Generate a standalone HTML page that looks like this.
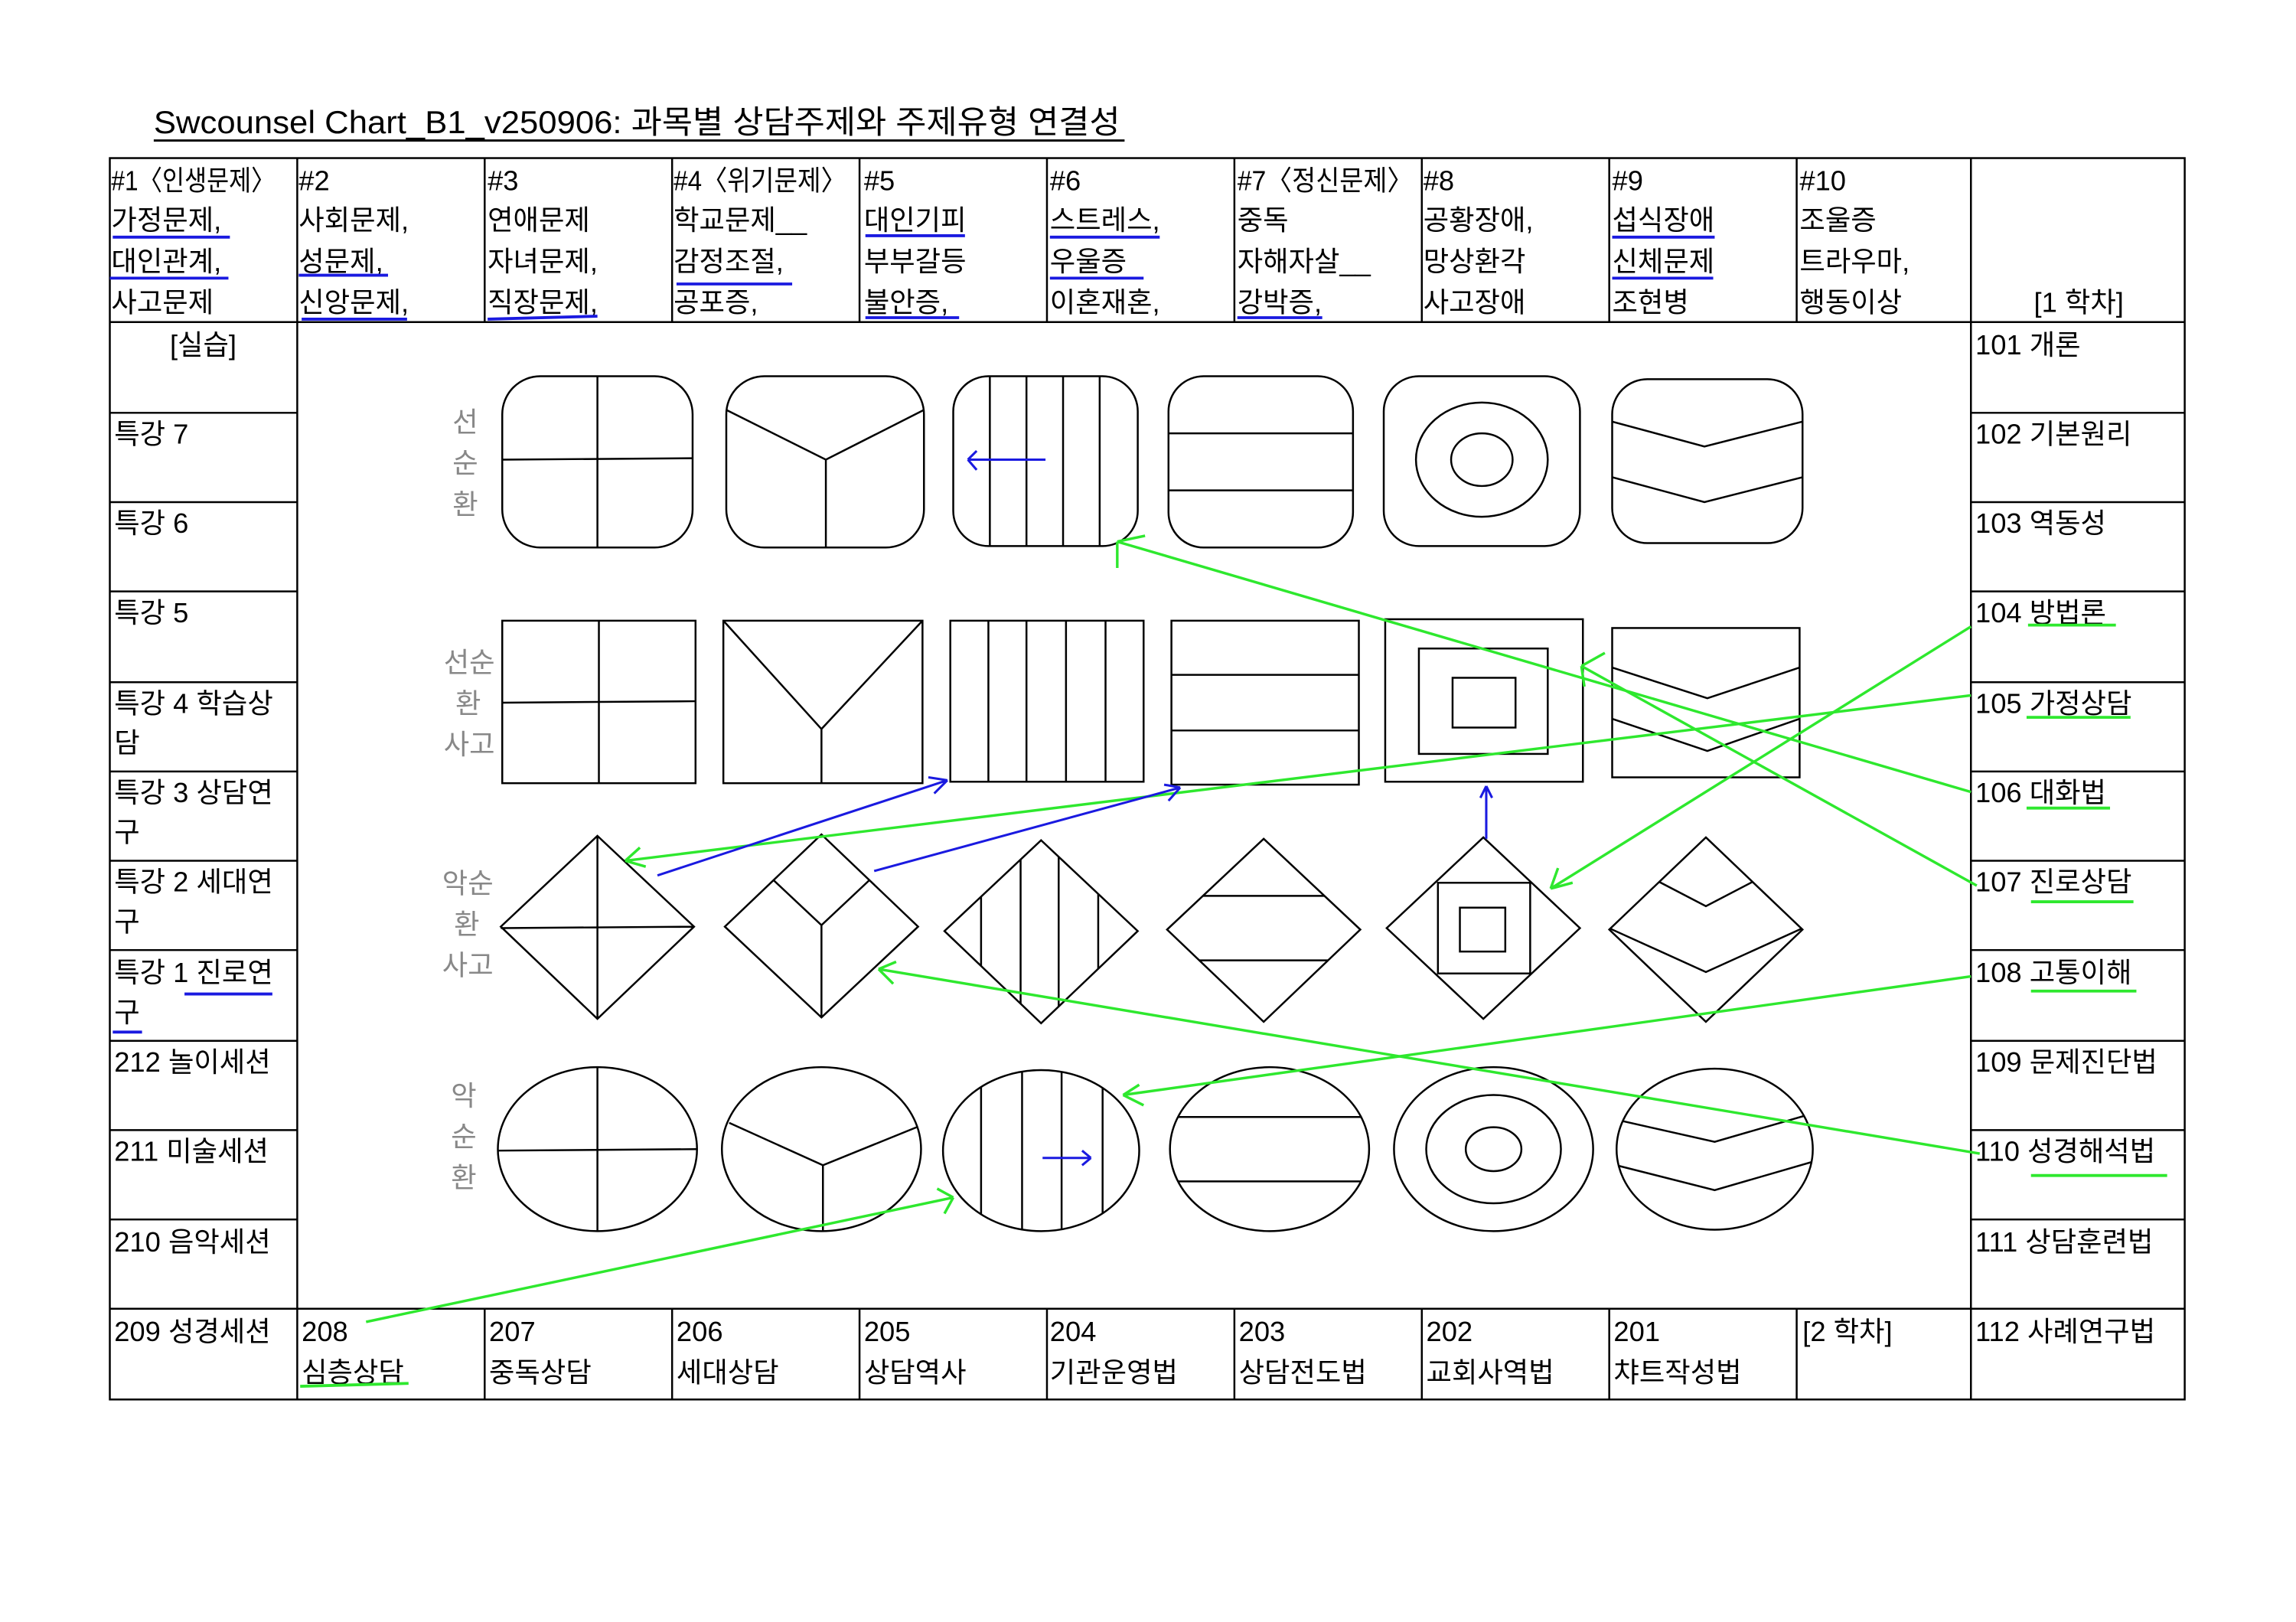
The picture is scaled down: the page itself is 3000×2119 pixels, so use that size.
<!DOCTYPE html>
<html><head><meta charset="utf-8"><style>
html,body{margin:0;padding:0;background:#fff;}
svg{display:block;}
text{font-family:"Liberation Sans","Noto Sans CJK KR",sans-serif;font-size:19px;fill:#000;}
.g{fill:#888;}
</style></head><body>
<svg width="3000" height="2119" viewBox="0 0 1568 1108" preserveAspectRatio="none" xmlns="http://www.w3.org/2000/svg">
<defs>
<clipPath id="d3"><path d="M711 574L777 636L711 699L645 636Z"/></clipPath>
<clipPath id="d4"><path d="M863 573L929 635L863 698L797 635Z"/></clipPath>
<clipPath id="d6"><path d="M1165 572L1231 635L1165 698L1099 635Z"/></clipPath>
<clipPath id="e3"><ellipse cx="711" cy="786" rx="67" ry="55"/></clipPath>
<clipPath id="e4"><ellipse cx="867" cy="785" rx="68" ry="56"/></clipPath>
<clipPath id="e6"><ellipse cx="1171" cy="785" rx="67" ry="55"/></clipPath>
</defs>
<rect width="1568" height="1108" fill="#fff"/>
<text x="105" y="91" style="font-size:22px" textLength="660" lengthAdjust="spacingAndGlyphs">Swcounsel Chart_B1_v250906: 과목별 상담주제와 주제유형 연결성</text>
<line x1="105" y1="96" x2="768" y2="96" stroke="#000" stroke-width="1.5"/>
<g stroke="#000" stroke-width="1.3" fill="none">
<rect x="75" y="108" width="1417" height="848"/>
<line x1="75" y1="220" x2="1492" y2="220"/>
<line x1="75" y1="894" x2="1492" y2="894"/>
<line x1="203" y1="108" x2="203" y2="956"/>
<line x1="1346" y1="108" x2="1346" y2="956"/>
<g>
<line x1="331" y1="108" x2="331" y2="220"/><line x1="459" y1="108" x2="459" y2="220"/><line x1="587" y1="108" x2="587" y2="220"/><line x1="715" y1="108" x2="715" y2="220"/><line x1="843" y1="108" x2="843" y2="220"/><line x1="971" y1="108" x2="971" y2="220"/><line x1="1099" y1="108" x2="1099" y2="220"/><line x1="1227" y1="108" x2="1227" y2="220"/>
<line x1="331" y1="894" x2="331" y2="956"/><line x1="459" y1="894" x2="459" y2="956"/><line x1="587" y1="894" x2="587" y2="956"/><line x1="715" y1="894" x2="715" y2="956"/><line x1="843" y1="894" x2="843" y2="956"/><line x1="971" y1="894" x2="971" y2="956"/><line x1="1099" y1="894" x2="1099" y2="956"/><line x1="1227" y1="894" x2="1227" y2="956"/>
</g>
<path d="M75 282H203M75 343H203M75 404H203M75 466H203M75 527H203M75 588H203M75 649H203M75 711H203M75 772H203M75 833H203"/>
<path d="M1346 282H1492M1346 343H1492M1346 404H1492M1346 466H1492M1346 527H1492M1346 588H1492M1346 649H1492M1346 711H1492M1346 772H1492M1346 833H1492"/>
</g>
<g>
<text x="76" y="130" textLength="112" lengthAdjust="spacingAndGlyphs">#1〈인생문제〉</text><text x="76" y="157">가정문제,</text><text x="76" y="185">대인관계,</text><text x="76" y="213">사고문제</text>
<text x="204" y="130">#2</text><text x="204" y="157">사회문제,</text><text x="204" y="185">성문제,</text><text x="204" y="213">신앙문제,</text>
<text x="333" y="130">#3</text><text x="333" y="157">연애문제</text><text x="333" y="185">자녀문제,</text><text x="333" y="213">직장문제,</text>
<text x="460" y="130" textLength="118" lengthAdjust="spacingAndGlyphs">#4〈위기문제〉</text><text x="460" y="157">학교문제__</text><text x="460" y="185">감정조절,</text><text x="460" y="213">공포증,</text>
<text x="590" y="130">#5</text><text x="590" y="157">대인기피</text><text x="590" y="185">부부갈등</text><text x="590" y="213">불안증,</text>
<text x="717" y="130">#6</text><text x="717" y="157">스트레스,</text><text x="717" y="185">우울증</text><text x="717" y="213">이혼재혼,</text>
<text x="845" y="130" textLength="120" lengthAdjust="spacingAndGlyphs">#7〈정신문제〉</text><text x="845" y="157">중독</text><text x="845" y="185">자해자살__</text><text x="845" y="213">강박증,</text>
<text x="972" y="130">#8</text><text x="972" y="157">공황장애,</text><text x="972" y="185">망상환각</text><text x="972" y="213">사고장애</text>
<text x="1101" y="130">#9</text><text x="1101" y="157">섭식장애</text><text x="1101" y="185">신체문제</text><text x="1101" y="213">조현병</text>
<text x="1229" y="130">#10</text><text x="1229" y="157">조울증</text><text x="1229" y="185">트라우마,</text><text x="1229" y="213">행동이상</text>
<text x="1389" y="213">[1 학차]</text>
</g>
<g>
<text x="116" y="242">[실습]</text>
<text x="78" y="303">특강 7</text><text x="78" y="364">특강 6</text><text x="78" y="425">특강 5</text>
<text x="78" y="487">특강 4 학습상</text><text x="78" y="514">담</text>
<text x="78" y="548">특강 3 상담연</text><text x="78" y="575">구</text>
<text x="78" y="609">특강 2 세대연</text><text x="78" y="636">구</text>
<text x="78" y="671">특강 1 진로연</text><text x="78" y="698">구</text>
<text x="78" y="732">212 놀이세션</text><text x="78" y="793">211 미술세션</text><text x="78" y="855">210 음악세션</text><text x="78" y="916">209 성경세션</text>
</g>
<g>
<text x="1349" y="242">101 개론</text><text x="1349" y="303">102 기본원리</text><text x="1349" y="364">103 역동성</text><text x="1349" y="425">104 방법론</text><text x="1349" y="487">105 가정상담</text><text x="1349" y="548">106 대화법</text><text x="1349" y="609">107 진로상담</text><text x="1349" y="671">108 고통이해</text><text x="1349" y="732">109 문제진단법</text><text x="1349" y="793">110 성경해석법</text><text x="1349" y="855">111 상담훈련법</text><text x="1349" y="916">112 사례연구법</text>
</g>
<g>
<text x="206" y="916">208</text><text x="206" y="944">심층상담</text>
<text x="334" y="916">207</text><text x="334" y="944">중독상담</text>
<text x="462" y="916">206</text><text x="462" y="944">세대상담</text>
<text x="590" y="916">205</text><text x="590" y="944">상담역사</text>
<text x="717" y="916">204</text><text x="717" y="944">기관운영법</text>
<text x="846" y="916">203</text><text x="846" y="944">상담전도법</text>
<text x="974" y="916">202</text><text x="974" y="944">교회사역법</text>
<text x="1102" y="916">201</text><text x="1102" y="944">챠트작성법</text>
<text x="1231" y="916">[2 학차]</text>
</g>
<g>
<text class="g" x="309" y="295">선</text><text class="g" x="309" y="323">순</text><text class="g" x="309" y="351">환</text>
<text class="g" x="303" y="459">선순</text><text class="g" x="311" y="487">환</text><text class="g" x="303" y="515">사고</text>
<text class="g" x="302" y="610">악순</text><text class="g" x="310" y="638">환</text><text class="g" x="302" y="666">사고</text>
<text class="g" x="308" y="755">악</text><text class="g" x="308" y="783">순</text><text class="g" x="308" y="811">환</text>
</g>
<g stroke="#1a1ae0" stroke-width="2" fill="none">
<path d="M77 162H157M75 190H156M204 188H265M206 218H278M333 218L408 216M462 194H541M591 161H659M591 217H655M717 162H792M717 190H781M845 217H903M1101 162H1171M1101 190H1170M126 679H186M77 705H97"/>
</g>
<g stroke="#2ee82e" stroke-width="2" fill="none">
<path d="M1385 427H1445M1384 490H1455M1384 552H1441M1387 616H1457M1387 677H1459M1387 803H1480M205 947L279 945"/>
</g>
<g stroke="#000" stroke-width="1.3" fill="none">
<rect x="343" y="257" width="130" height="117" rx="26"/>
<path d="M408 257V374M343 314L473 313"/>
<rect x="496" y="257" width="135" height="117" rx="26"/>
<path d="M496 280L564 314L631 280M564 314V374"/>
<rect x="651" y="257" width="126" height="116" rx="24"/>
<path d="M676 257V373M701 257V373M726 257V373M751 257V373"/>
<rect x="798" y="257" width="126" height="117" rx="24"/>
<path d="M798 296H924M798 335H924"/>
<rect x="945" y="257" width="134" height="116" rx="24"/>
<ellipse cx="1012" cy="314" rx="45" ry="39"/><ellipse cx="1012" cy="314" rx="21" ry="18"/>
<rect x="1101" y="259" width="130" height="112" rx="24"/>
<path d="M1101 288L1164 305L1231 288M1101 326L1164 343L1231 326"/>
</g>
<g stroke="#000" stroke-width="1.3" fill="none">
<rect x="343" y="424" width="132" height="111"/><path d="M409 424V535M343 480L475 479"/>
<rect x="494" y="424" width="136" height="111"/><path d="M494 424L561 498L630 424M561 498V535"/>
<rect x="649" y="424" width="132" height="110"/><path d="M675 424V534M701 424V534M728 424V534M755 424V534"/>
<rect x="800" y="424" width="128" height="112"/><path d="M800 461H928M800 499H928"/>
<rect x="946" y="423" width="135" height="111"/><rect x="969" y="443" width="88" height="72"/><rect x="992" y="463" width="43" height="34"/>
<rect x="1101" y="429" width="128" height="102"/><path d="M1101 456L1166 477L1229 456M1101 491L1166 513L1229 491"/>
</g>
<g stroke="#000" stroke-width="1.3" fill="none">
<path d="M408 571L474 633L408 696L342 633Z M408 571V696 M342 634L474 633"/>
<path d="M561 570L627 633L561 695L495 633Z M528 601L561 632L594 601 M561 632V695"/>
<path d="M711 574L777 636L711 699L645 636Z"/>
<path clip-path="url(#d3)" d="M670 560V710M697 560V710M723 560V710M750 560V710"/>
<path d="M863 573L929 635L863 698L797 635Z"/>
<path clip-path="url(#d4)" d="M790 612H940M790 656H940"/>
<path d="M1013 572L1079 634L1013 696L947 634Z M982 603H1045V665H982Z M997 620H1028V650H997Z"/>
<path d="M1165 572L1231 635L1165 698L1099 635Z"/>
<path clip-path="url(#d6)" d="M1090 580L1165 619L1240 580M1090 630L1165 664L1240 630"/>
</g>
<g stroke="#000" stroke-width="1.3" fill="none">
<ellipse cx="408" cy="785" rx="68" ry="56"/><path d="M408 729V841M340 786L476 785"/>
<ellipse cx="561" cy="785" rx="68" ry="56"/><path d="M498 767L562 796L626 770M562 796V841"/>
<ellipse cx="711" cy="786" rx="67" ry="55"/>
<path clip-path="url(#e3)" d="M670 720V850M698 720V850M725 720V850M753 720V850"/>
<ellipse cx="867" cy="785" rx="68" ry="56"/>
<path clip-path="url(#e4)" d="M795 763H940M795 807H940"/>
<ellipse cx="1020" cy="785" rx="68" ry="56"/><ellipse cx="1020" cy="785" rx="46" ry="37"/><ellipse cx="1020" cy="785" rx="19" ry="15"/>
<ellipse cx="1171" cy="785" rx="67" ry="55"/>
<path clip-path="url(#e6)" d="M1100 764L1171 780L1240 760M1100 795L1171 813L1240 793"/>
</g>
<g stroke="#2ee82e" stroke-width="1.8" fill="none">
<path d="M1346 541L763 370M763 370L782 366M763 370L763 388"/>
<path d="M1350 605L1080 455M1080 455L1096 446M1080 455L1082 469"/>
<path d="M1346 428L1059 607M1059 607L1074 603M1059 607L1064 593"/>
<path d="M1346 475L427 588M427 588L437 579M427 588L441 592"/>
<path d="M1346 667L767 748M767 748L778 741M767 748L781 755"/>
<path d="M1352 788L600 662M600 662L612 657M600 662L610 672"/>
<path d="M250 903L651 818M651 818L640 812M651 818L645 829"/>
</g>
<g stroke="#1a1ae0" stroke-width="1.6" fill="none">
<path d="M449 598L647 533M647 533L638 542M647 533L634 531"/>
<path d="M597 595L806 538M806 538L798 547M806 538L795 536"/>
<path d="M1015 573V537M1015 537L1011 545M1015 537L1019 545"/>
<path d="M714 314H661M661 314L667 308M661 314L667 321"/>
<path d="M712 791H745M745 791L739 786M745 791L739 796"/>
</g>
</svg>
</body></html>
